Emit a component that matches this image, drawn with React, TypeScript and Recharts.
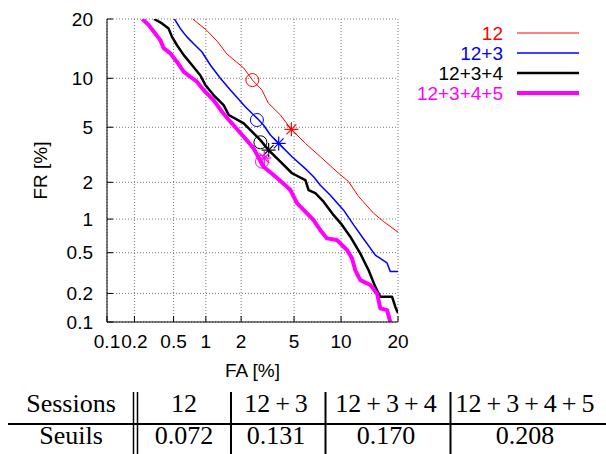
import React from 'react';
import { ComposedChart, Line, Scatter, XAxis, YAxis, CartesianGrid, Legend, Label } from 'recharts';

// ---- data (percent values) ----
const tickValues = [0.1, 0.2, 0.5, 1, 2, 5, 10, 20];
const tickLabels = ['0.1', '0.2', '0.5', '1', '2', '5', '10', '20'];

const seriesNames = ['12', '12+3', '12+3+4', '12+3+4+5'];

const fa12 = [0.76, 1.01, 1.27, 1.53, 2.1, 2.46, 2.92, 3.26, 4.0, 4.79, 5.97, 7.47, 9.46, 11.07, 12.6, 15.15, 17.04, 20];
const fr12 = [20, 17.8, 15.6, 13.5, 11.4, 9.77, 8.55, 7.14, 6.01, 4.84, 3.88, 3.12, 2.41, 2.02, 1.54, 1.12, 0.95, 0.77];

const fa123 = [0.51, 0.58, 0.67, 0.8, 0.92, 1.1, 1.34, 1.63, 2.16, 2.67, 3.0, 3.38, 3.89, 4.84, 6.12, 6.76, 7.47, 8.62, 10.35, 11.81, 13.15, 15.46, 17.71, 18.38, 20];
const fr123 = [20, 18.1, 16.5, 15.0, 13.9, 11.8, 10.0, 8.55, 6.78, 5.74, 5.17, 4.43, 3.88, 3.12, 2.48, 2.21, 1.9, 1.58, 1.19, 0.89, 0.7, 0.475, 0.4, 0.33, 0.33];

const fa1234 = [0.32, 0.385, 0.447, 0.483, 0.54, 0.624, 0.75, 0.89, 0.99, 1.17, 1.43, 1.58, 2.1, 2.52, 2.84, 3.28, 4.0, 4.84, 5.97, 6.27, 6.94, 7.83, 9.03, 10.13, 11.31, 12.87, 14.26, 15.46, 16.4, 18.73, 19.43, 20];
const fr1234 = [20, 19.1, 18.1, 16.5, 15.0, 13.4, 11.8, 10.4, 9.15, 7.99, 6.94, 6.01, 5.3, 4.55, 4.09, 3.48, 2.87, 2.35, 2.08, 1.74, 1.64, 1.4, 1.08, 0.89, 0.7, 0.49, 0.34, 0.233, 0.185, 0.185, 0.145, 0.125];

const fa12345 = [0.242, 0.281, 0.317, 0.37, 0.4, 0.465, 0.54, 0.624, 0.72, 0.83, 0.955, 1.17, 1.385, 1.63, 2.1, 2.52, 3.0, 3.57, 4.34, 4.71, 5.24, 6.12, 6.76, 7.47, 8.23, 9.46, 10.83, 11.57, 12.07, 12.87, 14.56, 15.78, 16.4, 17.71, 18.38];
const fr12345 = [20, 18.8, 17.5, 15.9, 14.5, 13.65, 12.3, 10.9, 10.2, 9.56, 8.55, 7.45, 6.3, 5.44, 4.31, 3.58, 2.63, 2.28, 1.9, 1.74, 1.36, 1.12, 0.98, 0.8, 0.676, 0.653, 0.53, 0.442, 0.34, 0.272, 0.243, 0.2, 0.14, 0.134, 0.1];

// operating-point markers (circle and star per system)
const circleFA = [2.46, 2.67, 2.84, 2.92];
const circleFR = [9.77, 5.58, 3.95, 2.87];
const starFA = [4.79, 3.89, 3.28, 3.04];
const starFR = [4.84, 3.88, 3.48, 3.05];

// table
const tableHeader = ['Sessions', '12', '12+3', '12+3+4', '12+3+4+5'];
const tableRow = ['Seuils', '0.072', '0.131', '0.170', '0.208'];

// ---- styles ----
const COLORS = ['#ff0000', '#0000ff', '#000000', '#ff00ff'];
const WIDTHS = [1, 1.5, 2.5, 4];
const SANS = "'Liberation Sans', Arial, Helvetica, sans-serif";
const SERIF = "'Liberation Serif', 'Times New Roman', serif";
const FS = 19;

// inverse normal CDF (Acklam) for the DET (normal deviate) scale
function probit(p: number): number {
  const a = [-3.969683028665376e1, 2.209460984245205e2, -2.759285104469687e2, 1.38357751867269e2, -3.066479806614716e1, 2.506628277459239];
  const b = [-5.447609879822406e1, 1.615858368580409e2, -1.556989798598866e2, 6.680131188771972e1, -1.328068155288572e1];
  const c = [-7.784894002430293e-3, -3.223964580411365e-1, -2.400758277161838, -2.549732539343734, 4.374664141464968, 2.938163982698783];
  const d = [7.784695709041462e-3, 3.224671290700398e-1, 2.445134137142996, 3.754408661907416];
  const plow = 0.02425;
  const phigh = 1 - plow;
  if (p < plow) {
    const q = Math.sqrt(-2 * Math.log(p));
    return (((((c[0] * q + c[1]) * q + c[2]) * q + c[3]) * q + c[4]) * q + c[5]) / ((((d[0] * q + d[1]) * q + d[2]) * q + d[3]) * q + 1);
  }
  if (p <= phigh) {
    const q = p - 0.5;
    const r = q * q;
    return ((((((a[0] * r + a[1]) * r + a[2]) * r + a[3]) * r + a[4]) * r + a[5]) * q) / (((((b[0] * r + b[1]) * r + b[2]) * r + b[3]) * r + b[4]) * r + 1);
  }
  const q = Math.sqrt(-2 * Math.log(1 - p));
  return -(((((c[0] * q + c[1]) * q + c[2]) * q + c[3]) * q + c[4]) * q + c[5]) / ((((d[0] * q + d[1]) * q + d[2]) * q + d[3]) * q + 1);
}

const toDev = (pct: number) => probit(pct / 100);
const build = (fa: number[], fr: number[]) => fa.map((v, i) => ({ x: toDev(v), y: toDev(fr[i]) }));

const seriesData = [build(fa12, fr12), build(fa123, fr123), build(fa1234, fr1234), build(fa12345, fr12345)];
const circleData = circleFA.map((v, i) => [{ x: toDev(v), y: toDev(circleFR[i]) }]);
const starData = starFA.map((v, i) => [{ x: toDev(v), y: toDev(starFR[i]) }]);

const tickPos = tickValues.map(toDev);
const DMIN = tickPos[0];
const DMAX = tickPos[tickPos.length - 1];
const fmt = (v: number) => {
  let best = 0;
  tickPos.forEach((t, i) => {
    if (Math.abs(t - v) < Math.abs(tickPos[best] - v)) best = i;
  });
  return tickLabels[best];
};

const makeCircle = (color: string) => (p: any) => (
  <circle cx={p.cx} cy={p.cy} r={6.5} fill="none" stroke={color} strokeWidth={1} />
);
const makeStar = (color: string) => (p: any) => {
  const s = 7;
  const k = s * 0.7071;
  return (
    <g stroke={color} strokeWidth={1.2}>
      <line x1={p.cx - s} y1={p.cy} x2={p.cx + s} y2={p.cy} />
      <line x1={p.cx} y1={p.cy - s} x2={p.cx} y2={p.cy + s} />
      <line x1={p.cx - k} y1={p.cy - k} x2={p.cx + k} y2={p.cy + k} />
      <line x1={p.cx - k} y1={p.cy + k} x2={p.cx + k} y2={p.cy - k} />
    </g>
  );
};

const renderLegend = () => (
  <svg width={606} height={110} style={{ display: 'block' }}>
    {seriesNames.map((n, i) => {
      const y = 33 + i * 20;
      return (
        <g key={n}>
          <text x={503} y={y + 6.8} textAnchor="end" fill={COLORS[i]} fontSize={FS} fontFamily={SANS}>
            {n}
          </text>
          <line x1={517} x2={579} y1={y} y2={y} stroke={COLORS[i]} strokeWidth={WIDTHS[i]} />
        </g>
      );
    })}
  </svg>
);

// math-style spacing around "+" in the table cells
const mathText = (t: string, gap: number) => {
  const parts = t.split('+');
  const out: React.ReactNode[] = [parts[0]];
  for (let i = 1; i < parts.length; i++) {
    out.push(
      <tspan key={'p' + i} dx={gap}>
        +
      </tspan>
    );
    out.push(
      <tspan key={'n' + i} dx={gap}>
        {parts[i]}
      </tspan>
    );
  }
  return out;
};

const tickStyle = { fontSize: FS, fill: '#000', fontFamily: SANS };

export default function App() {
  const colX = [71, 184, 276, 386, 525];
  return (
    <div style={{ position: 'absolute', left: 0, top: 0, width: 606, height: 454, background: '#fff', overflow: 'hidden' }}>
      <ComposedChart width={606} height={454} margin={{ top: 19, right: 208, bottom: 90, left: 0 }}>
        <CartesianGrid xAxisId="b" yAxisId="l" stroke="#777" strokeDasharray="1 2" />
        {seriesData.map((d, i) => (
          <Line
            key={seriesNames[i]}
            xAxisId="b"
            yAxisId="l"
            data={d}
            dataKey="y"
            type="linear"
            stroke={COLORS[i]}
            strokeWidth={WIDTHS[i]}
            strokeLinejoin="round"
            dot={false}
            activeDot={false}
            isAnimationActive={false}
            name={seriesNames[i]}
          />
        ))}
        {circleData.map((d, i) => (
          <Scatter key={'c' + i} xAxisId="b" yAxisId="l" data={d} dataKey="y" shape={makeCircle(COLORS[i])} isAnimationActive={false} legendType="none" />
        ))}
        {starData.map((d, i) => (
          <Scatter key={'s' + i} xAxisId="b" yAxisId="l" data={d} dataKey="y" shape={makeStar(COLORS[i])} isAnimationActive={false} legendType="none" />
        ))}
        <XAxis
          xAxisId="b"
          dataKey="x"
          type="number"
          domain={[DMIN, DMAX]}
          allowDataOverflow
          ticks={tickPos}
          interval={0}
          tickFormatter={fmt}
          height={42}
          tickSize={-6}
          tickMargin={19}
          tick={tickStyle}
          axisLine={{ stroke: '#000' }}
          tickLine={{ stroke: '#000' }}
        >
          <Label value="FA [%]" position="bottom" offset={0} fill="#000" fontSize={FS} fontFamily={SANS} />
        </XAxis>
        <XAxis
          xAxisId="t"
          orientation="top"
          dataKey="x"
          type="number"
          domain={[DMIN, DMAX]}
          allowDataOverflow
          ticks={tickPos}
          interval={0}
          tickFormatter={() => ''}
          height={0}
          tickSize={-6}
          axisLine={{ stroke: '#000' }}
          tickLine={{ stroke: '#000' }}
        />
        <YAxis
          yAxisId="l"
          dataKey="y"
          type="number"
          domain={[DMIN, DMAX]}
          allowDataOverflow
          ticks={tickPos}
          interval={0}
          tickFormatter={fmt}
          width={107}
          tickSize={-6}
          tickMargin={20}
          tick={tickStyle}
          axisLine={{ stroke: '#000' }}
          tickLine={{ stroke: '#000' }}
        >
          <Label
            content={(props: any) => {
              const vb = props.viewBox || { x: 0, y: 19, width: 107, height: 303 };
              const cx = vb.x + 40;
              const cy = vb.y + vb.height / 2;
              return (
                <text x={cx} y={cy} transform={`rotate(-90 ${cx} ${cy})`} textAnchor="middle" dominantBaseline="central" fill="#000" fontSize={FS} fontFamily={SANS}>
                  FR [%]
                </text>
              );
            }}
          />
        </YAxis>
        <YAxis
          yAxisId="r"
          orientation="right"
          dataKey="y"
          type="number"
          domain={[DMIN, DMAX]}
          allowDataOverflow
          ticks={tickPos}
          interval={0}
          tickFormatter={() => ''}
          width={0}
          tickSize={-6}
          axisLine={{ stroke: '#000' }}
          tickLine={{ stroke: '#000' }}
        />
        <Legend
          layout="horizontal"
          verticalAlign="middle"
          align="center"
          content={renderLegend}
          wrapperStyle={{ position: 'absolute', left: 0, top: 0, width: 606, height: 110 }}
        />
      </ComposedChart>
      <svg width={606} height={454} style={{ position: 'absolute', left: 0, top: 0, pointerEvents: 'none' }}>
        <line x1={8} x2={606} y1={424} y2={424} stroke="#000" strokeWidth={2} />
        <line x1={133.5} x2={133.5} y1={392} y2={454} stroke="#000" strokeWidth={1.5} />
        <line x1={137.5} x2={137.5} y1={392} y2={454} stroke="#000" strokeWidth={1.5} />
        {[231, 325.5, 450.5].map((x) => (
          <line key={x} x1={x} x2={x} y1={392} y2={454} stroke="#000" strokeWidth={2} />
        ))}
        {tableHeader.map((t, i) => (
          <text key={'h' + i} x={colX[i]} y={412} textAnchor="middle" fontSize={26} fontFamily={SERIF} fill="#000">
            {mathText(t, 5)}
          </text>
        ))}
        {tableRow.map((t, i) => (
          <text key={'r' + i} x={colX[i]} y={444} textAnchor="middle" fontSize={26} fontFamily={SERIF} fill="#000">
            {t}
          </text>
        ))}
      </svg>
    </div>
  );
}
